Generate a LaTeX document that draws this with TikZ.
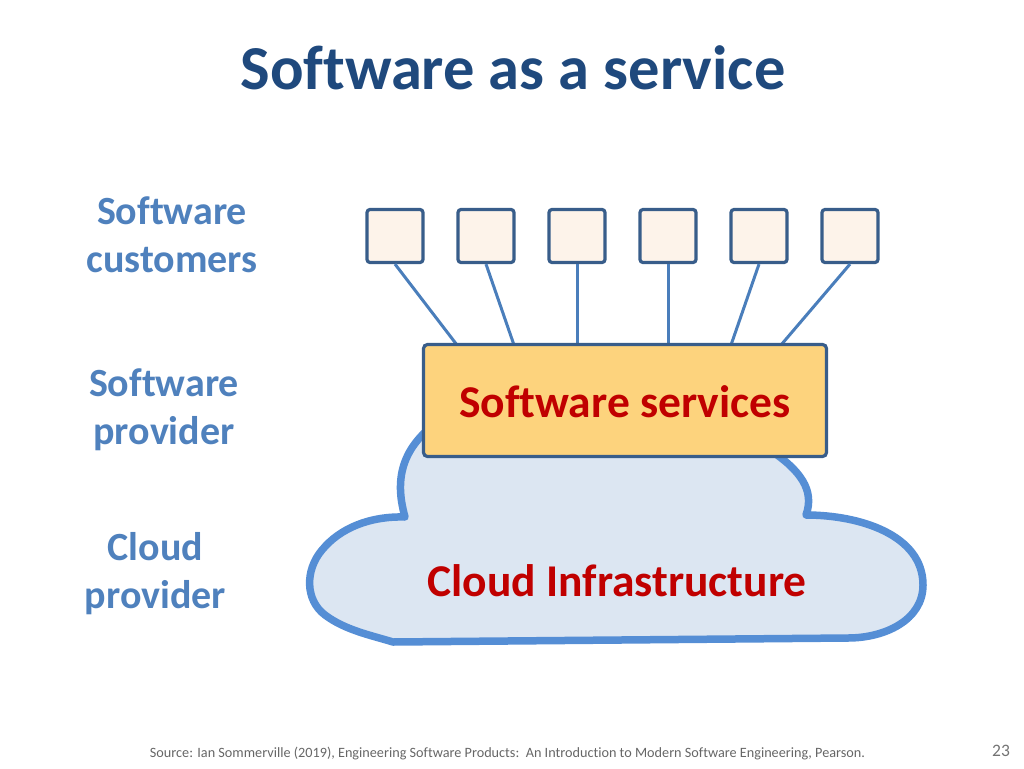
\documentclass[tikz,border=0pt]{standalone}
\usepackage{fontspec}
\setmainfont[Ligatures=CommonOff]{Carlito}
\definecolor{titleblue}{HTML}{1F497D}
\definecolor{labelblue}{HTML}{4F81BD}
\definecolor{edgeblue}{HTML}{385D8A}
\definecolor{linkblue}{HTML}{4A7EBB}
\definecolor{cloudedge}{HTML}{558ED5}
\definecolor{cloudfill}{HTML}{DCE6F2}
\definecolor{boxfill}{HTML}{FDF3EA}
\definecolor{servfill}{HTML}{FDD37D}
\definecolor{redtext}{HTML}{C00000}
\tikzset{
  custbox/.style={draw=edgeblue,line width=3.2pt,fill=boxfill,rounded corners=3pt,minimum width=56pt,minimum height=53pt,inner sep=0pt},
  link/.style={draw=linkblue,line width=3pt},
  sidelabel/.style={text=labelblue,font=\fontsize{40}{48}\selectfont\bfseries,align=center,inner sep=0pt},
  redlabel/.style={text=redtext,font=\fontsize{45.5}{48}\selectfont\bfseries,inner sep=0pt},
}
\begin{document}
\begin{tikzpicture}[x=1pt,y=-1pt]
\useasboundingbox (0,0) rectangle (1024,768);
\node[text=titleblue,font=\fontsize{62.5}{70}\selectfont\bfseries,inner sep=0pt] (title) at (513,68) {Software as a service};
\node[sidelabel] (cust) at (172,235) {Software\\customers};
\node[sidelabel] (prov) at (164,410) {Software\\provider};
\node[sidelabel] (cprov) at (155.5,574) {Cloud\\provider};
\draw[draw=cloudedge,line width=7.5pt,fill=cloudfill,line join=round] (405,517)
  .. controls (396,485) and (397,450) .. (440,420)
  -- (770,450)
  .. controls (800,470) and (815,490) .. (806,515)
  .. controls (860,515) and (923,535) .. (923,585)
  .. controls (923,620) and (885,638) .. (848,638)
  -- (393,642)
  .. controls (370,635) and (345,630) .. (325,615)
  .. controls (305,600) and (305,570) .. (322,550)
  .. controls (340,528) and (370,516) .. (405,517) -- cycle;
\node[custbox] (c1) at (395,236) {};
\node[custbox] (c2) at (486,236) {};
\node[custbox] (c3) at (577,236) {};
\node[custbox] (c4) at (668,236) {};
\node[custbox] (c5) at (759,236) {};
\node[custbox] (c6) at (850,236) {};
\coordinate (e1) at (457,345);
\coordinate (e2) at (514,345);
\coordinate (e3) at (577,345);
\coordinate (e4) at (668,345);
\coordinate (e5) at (731,345);
\coordinate (e6) at (781,345);
\draw[link] (c1.south) -- (e1);
\draw[link] (c2.south) -- (e2);
\draw[link] (c3.south) -- (e3);
\draw[link] (c4.south) -- (e4);
\draw[link] (c5.south) -- (e5);
\draw[link] (c6.south) -- (e6);
\node[draw=edgeblue,line width=3.2pt,fill=servfill,rounded corners=4pt,minimum width=403pt,minimum height=112pt,inner sep=0pt] (serv) at (625,400.5) {};
\node[redlabel] (servt) at (625,402) {Software services};
\node[redlabel] (cloudt) at (617,581) {Cloud Infrastructure};
\node[text=black!60,font=\fontsize{14.22}{16}\selectfont,inner sep=0pt] (src) at (507.5,754) {Source: Ian Sommerville (2019), Engineering Software Products:\ \ An Introduction to Modern Software Engineering, Pearson.};
\node[text=black!55,font=\fontsize{17.5}{18}\selectfont,inner sep=0pt] (pg) at (1001,751) {23};
\end{tikzpicture}
\end{document}
